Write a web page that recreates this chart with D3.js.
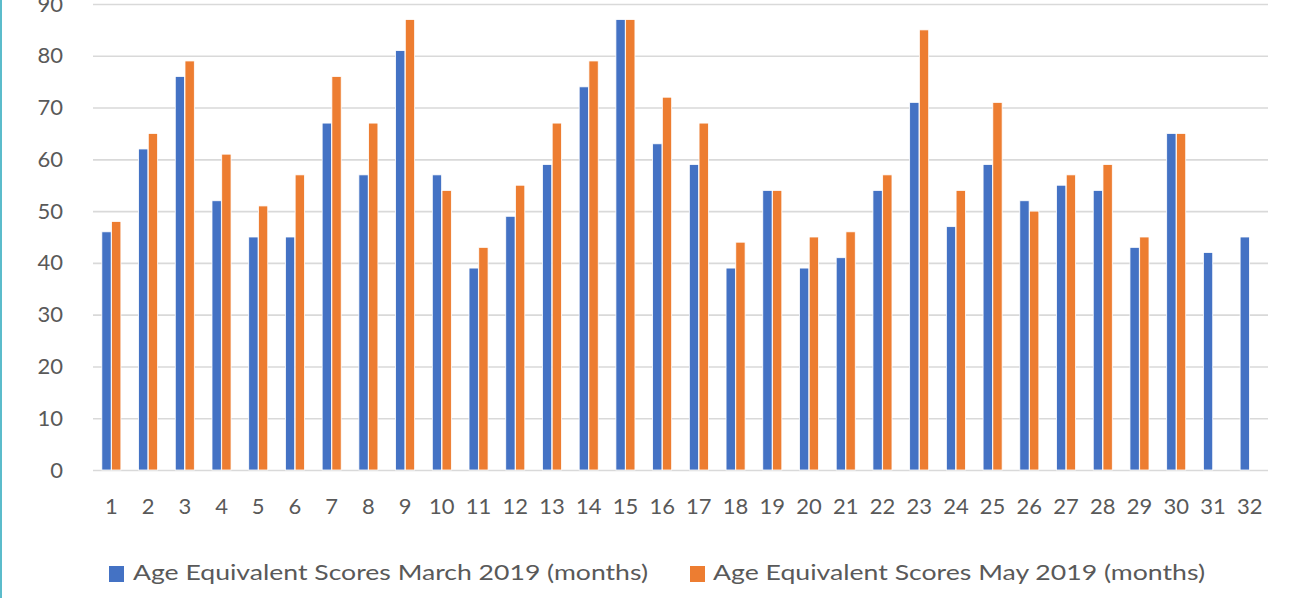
<!DOCTYPE html>
<html>
<head>
<meta charset="utf-8">
<script src="https://cdn.jsdelivr.net/npm/d3@7"></script>
<style>
  html, body { margin: 0; padding: 0; background: #fff; }
  svg { display: block; }
  text { font-family: Lato, "Open Sans", sans-serif; fill: #595959; }
</style>
</head>
<body>
<svg id="chart" width="1293" height="598"></svg>
<script>
const categories = Array.from({length: 32}, (_, i) => String(i + 1));
const marchScores = [46,62,76,52,45,45,67,57,81,57,39,49,59,74,87,63,59,39,54,39,41,54,71,47,59,52,55,54,43,65,42,45];
const mayScores   = [48,65,79,61,51,57,76,67,87,54,43,55,67,79,87,72,67,44,54,45,46,57,85,54,71,50,57,59,45,65,null,null];
const seriesNames = ["Age Equivalent Scores March 2019 (months)", "Age Equivalent Scores May 2019 (months)"];
const seriesColors = ["#4472C4", "#ED7D31"];
const yTicks = [0,10,20,30,40,50,60,70,80,90];

const svg = d3.select("#chart");
const W = 1293, H = 598;
const plot = {left: 93, right: 1268, top: 4, bottom: 470};

// left border line of the frame
svg.append("rect").attr("x", 0).attr("y", 0).attr("width", 2).attr("height", H).attr("fill", "#5bbccb");

const x = d3.scaleBand().domain(categories).range([plot.left, plot.right]).paddingInner(0.46).paddingOuter(0.23);
const sub = d3.scaleBand().domain([0, 1]).range([0, x.bandwidth()]).padding(0.04);
const y = d3.scaleLinear().domain([0, 90]).range([plot.bottom, plot.top]);

// gridlines + y labels
const yAxis = d3.axisLeft(y).tickValues(yTicks).tickSize(-(plot.right - plot.left)).tickPadding(30);
const gy = svg.append("g").attr("transform", `translate(${plot.left},0)`).call(yAxis);
gy.select(".domain").remove();
gy.selectAll(".tick line").attr("stroke", "#d9d9d9").attr("stroke-width", 1.6);
gy.selectAll(".tick text").attr("font-size", 22).attr("fill", "#595959").style("font-family", "Lato, sans-serif");

// bars
const data = categories.map((c, i) => ({cat: c, vals: [marchScores[i], mayScores[i]]}));
const groups = svg.append("g").selectAll("g").data(data).join("g")
  .attr("transform", d => `translate(${x(d.cat)},0)`);
groups.selectAll("rect").data(d => d.vals.map((v, k) => ({v, k})).filter(e => e.v != null)).join("rect")
  .attr("x", e => sub(e.k))
  .attr("width", sub.bandwidth())
  .attr("y", e => y(e.v))
  .attr("height", e => y(0) - y(e.v))
  .attr("fill", e => seriesColors[e.k])
  .attr("stroke", "#ffffff")
  .attr("stroke-width", 0.8);

// x axis labels
const xAxis = d3.axisBottom(x).tickSize(0).tickPadding(28);
const gx = svg.append("g").attr("transform", `translate(0,${plot.bottom})`).call(xAxis);
gx.select(".domain").remove();
gx.selectAll(".tick text").attr("font-size", 22).attr("fill", "#595959").style("font-family", "Lato, sans-serif");

// legend
const legendItems = [
  {name: seriesNames[0], color: seriesColors[0], sx: 109, tx: 133, tw: 515},
  {name: seriesNames[1], color: seriesColors[1], sx: 690, tx: 713, tw: 492}
];
const lg = svg.append("g");
legendItems.forEach(it => {
  lg.append("rect").attr("x", it.sx).attr("y", 566).attr("width", 15).attr("height", 16).attr("fill", it.color);
  lg.append("text").attr("x", it.tx).attr("y", 580).attr("font-size", 22)
    .attr("textLength", it.tw).attr("lengthAdjust", "spacingAndGlyphs").text(it.name);
});
</script>
</body>
</html>
